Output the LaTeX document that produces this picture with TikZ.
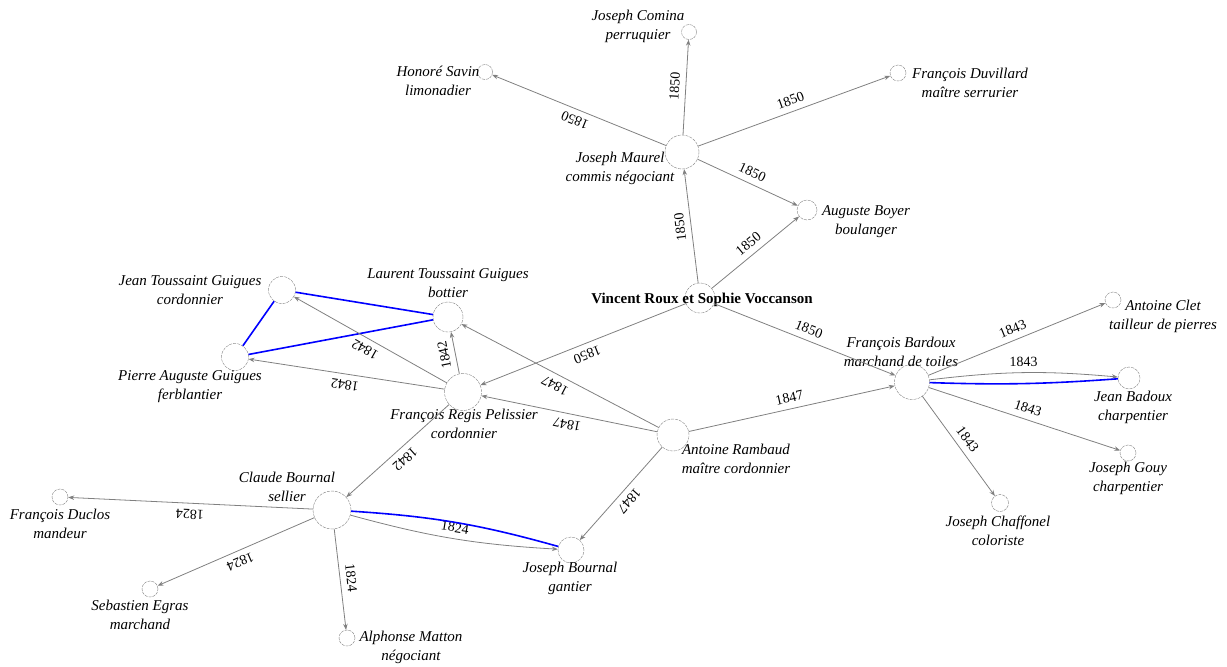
\documentclass[tikz,border=0pt]{standalone}
\usepackage{fontspec}
\setmainfont{Liberation Serif}
\usepackage{tikz}
\usetikzlibrary{calc,arrows.meta}
\def\tie{\draw[color=gray, line width=0.8pt, -{Stealth[length=6pt,width=4.5pt]}]}
\def\famline{\draw[color=blue, line width=1.6pt]}
\def\pnode{\node[circle,draw=gray,dash pattern=on 3pt off 1pt,inner sep=0pt]}
\tikzset{
  who/.style={font=\fontsize{15}{19}\selectfont\itshape, align=center, inner sep=0pt},
  yr/.style={font=\fontsize{14}{16}\selectfont, text=black, midway, sloped, allow upside down, above=4pt, inner sep=2pt}
}

\begin{document}
\begin{tikzpicture}[x=1pt,y=-1pt]
\useasboundingbox (0,0) rectangle (1227,667);

% -------- the couple ---------
\pnode (v) [minimum size=30pt] at (700,298) {};
\node[font=\fontsize{15}{19}\selectfont\bfseries, inner sep=0pt] (v-t) at ($ (v) + (2,2) $) {Vincent Roux et Sophie Voccanson};

% -------- Joseph Maurel and the 1850 witnesses ---------
\pnode (jm) [minimum size=34pt] at (682,152) {};
\pnode (jc) [minimum size=15pt] at (689,32) {};
\pnode (hs) [minimum size=15pt] at (485,72) {};
\pnode (fd) [minimum size=16pt] at (898,73) {};
\pnode (ab) [minimum size=20pt] at (807,210) {};
\node[who] (jm-t) at ($ (jm) + (-62,16) $) {Joseph Maurel\\commis négociant};
\node[who] (jc-t) at ($ (jc) + (-51,-6) $) {Joseph Comina\\perruquier};
\node[who] (hs-t) at ($ (hs) + (-47,9) $) {Honoré Savin\\limonadier};
\node[who] (fd-t) at ($ (fd) + (72,10) $) {François Duvillard\\maître serrurier};
\node[who] (ab-t) at ($ (ab) + (59,12) $) {Auguste Boyer\\boulanger};
\tie (v) -- node[yr] {1850} (jm);
\tie (v) -- node[yr] {1850} (ab);
\tie (jm) -- node[yr] {1850} (jc);
\tie (jm) -- node[yr] {1850} (hs);
\tie (jm) -- node[yr] {1850} (fd);
\tie (jm) -- node[yr] {1850} (ab);

% -------- the Guigues and Pelissier (1842) ---------
\pnode (jtg) [minimum size=27pt] at (282,290) {};
\pnode (ltg) [minimum size=30pt] at (448,317) {};
\pnode (pag) [minimum size=27pt] at (235,357) {};
\pnode (frp) [minimum size=37pt] at (463,392) {};
\node[who] (jtg-t) at ($ (jtg) + (-92,0) $) {Jean Toussaint Guigues\\cordonnier};
\node[who] (ltg-t) at ($ (ltg) + (0,-34) $) {Laurent Toussaint Guigues\\bottier};
\node[who] (pag-t) at ($ (pag) + (-45,30) $) {Pierre Auguste Guigues\\ferblantier};
\node[who] (frp-t) at ($ (frp) + (1,32) $) {François Regis Pelissier\\cordonnier};
\famline (jtg) -- (ltg);
\famline (jtg) -- (pag);
\famline (pag) -- (ltg);
\tie (frp) -- node[yr] {1842} (jtg);
\tie (frp) -- node[yr] {1842} (pag);
\tie (frp) -- node[yr] {1842} (ltg);
\tie (v) -- node[yr] {1850} (frp);

% -------- Antoine Rambaud (1847) ---------
\pnode (ar) [minimum size=32pt] at (673,435) {};
\node[who] (ar-t) at ($ (ar) + (63,24) $) {Antoine Rambaud\\maître cordonnier};
\tie (ar) -- node[yr] {1847} (ltg);
\tie (ar) -- node[yr] {1847} (frp);

% -------- François Bardoux (1843) ---------
\pnode (fb) [minimum size=35pt] at (912,382) {};
\pnode (ac) [minimum size=16pt] at (1113,300) {};
\pnode (jb) [minimum size=22pt] at (1129,378) {};
\pnode (jg) [minimum size=16pt] at (1128,453) {};
\pnode (jch) [minimum size=17pt] at (1000,503) {};
\node[who] (fb-t) at ($ (fb) + (-11,-30) $) {François Bardoux\\marchand de toiles};
\node[who] (ac-t) at ($ (ac) + (50,16) $) {Antoine Clet\\tailleur de pierres};
\node[who] (jb-t) at ($ (jb) + (4,29) $) {Jean Badoux\\charpentier};
\node[who] (jg-t) at ($ (jg) + (0,25) $) {Joseph Gouy\\charpentier};
\node[who] (jch-t) at ($ (jch) + (-2,28) $) {Joseph Chaffonel\\coloriste};
\tie (v) -- node[yr] {1850} (fb);
\tie (ar) -- node[yr] {1847} (fb);
\tie (fb) -- node[yr] {1843} (ac);
\tie (fb) to[bend left=6] node[yr] {1843} (jb);
\famline (fb) to[bend right=3] (jb);
\tie (fb) -- node[yr] {1843} (jg);
\tie (fb) -- node[yr] {1843} (jch);

% -------- Claude Bournal (1824) ---------
\pnode (cb) [minimum size=38pt] at (332,510) {};
\pnode (fdu) [minimum size=16pt] at (60,497) {};
\pnode (se) [minimum size=16pt] at (150,589) {};
\pnode (am) [minimum size=16pt] at (347,638) {};
\pnode (jbo) [minimum size=26pt] at (571,550) {};
\node[who] (cb-t) at ($ (cb) + (-45,-23) $) {Claude Bournal\\sellier};
\node[who] (fdu-t) at ($ (fdu) + (0,27) $) {François Duclos\\mandeur};
\node[who] (se-t) at ($ (se) + (-10,26) $) {Sebastien Egras\\marchand};
\node[who] (am-t) at ($ (am) + (64,9) $) {Alphonse Matton\\négociant};
\node[who] (jbo-t) at ($ (jbo) + (-1,28) $) {Joseph Bournal\\gantier};
\tie (frp) -- node[yr] {1842} (cb);
\tie (ar) -- node[yr] {1847} (jbo);
\tie (cb) -- node[yr] {1824} (fdu);
\tie (cb) -- node[yr] {1824} (se);
\tie (cb) -- node[yr] {1824} (am);
\tie (cb) to[bend right=6] node[yr, above=0pt] {1824} (jbo);
\famline (cb) to[bend left=6] (jbo);
\end{tikzpicture}
\end{document}
